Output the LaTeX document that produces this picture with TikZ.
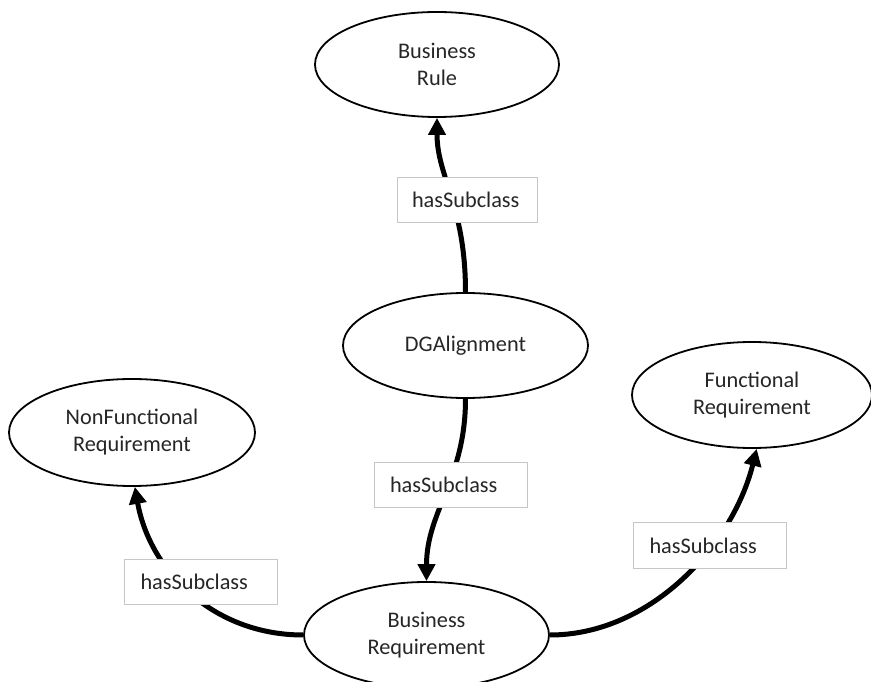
\documentclass[tikz,border=0pt]{standalone}
\usepackage{fontspec}
\setmainfont{Carlito}
\usetikzlibrary{shapes.geometric,arrows.meta}
\definecolor{txt}{HTML}{262626}
\definecolor{boxgray}{HTML}{C6C6C6}
\begin{document}
\begin{tikzpicture}[x=1pt,y=1pt,
  cls/.style={ellipse,draw=black,line width=1.8pt,inner sep=0pt,align=center,
    font=\fontsize{22.3}{27}\selectfont,text=txt},
  rel/.style={line width=5pt,-{Triangle[length=17pt,width=17pt]}},
  lbl/.style={draw=boxgray,line width=1pt,fill=white,minimum height=45pt,inner ysep=0pt,
    text=txt,font=\fontsize{22.3}{27}\selectfont,align=left},
  lblnarrow/.style={lbl,text width=110pt,inner xsep=15pt},
  lblwide/.style={lbl,text width=121pt,inner xsep=16pt}]
\useasboundingbox[fill=white] (0,0) rectangle (871,681);
\node[cls,minimum width=244pt,minimum height=105pt] (BR) at (437,616.5) {Business\\Rule};
\node[cls,minimum width=245pt,minimum height=105pt] (DG) at (465.5,335.5) {DGAlignment};
\node[cls,minimum width=246pt,minimum height=107pt] (NF) at (132,248.5) {NonFunctional\\Requirement};
\node[cls,minimum width=240pt,minimum height=106pt] (FR) at (752,286) {Functional\\Requirement};
\node[cls,minimum width=245pt,minimum height=106pt] (BQ) at (426.5,46) {Business\\Requirement};
\draw[rel] (DG.north) to[out=90,in=-90,out distance=87pt,in distance=59pt] (BR.south);
\draw[rel] (DG.south) to[out=-90,in=90,out distance=80pt,in distance=70pt] (BQ.north);
\draw[rel] (BQ.west) to[out=180,in=-80,out distance=90pt,in distance=85pt] (NF.-87);
\draw[rel] (BQ.east) to[out=0,in=-104,out distance=100pt,in distance=100pt] (FR.-85);
\node[lblnarrow] (L1) at (467,481) {hasSubclass};
\node[lblwide] (L2) at (450.5,196) {hasSubclass};
\node[lblwide] (L3) at (201,99.5) {hasSubclass};
\node[lblwide] (L4) at (710,135.5) {hasSubclass};
\end{tikzpicture}
\end{document}
